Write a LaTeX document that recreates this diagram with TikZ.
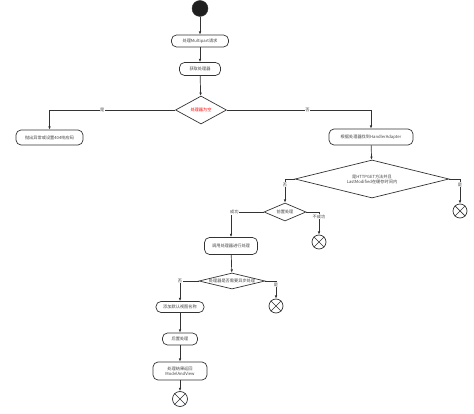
\documentclass[tikz,border=0pt]{standalone}
\usepackage{fontspec}
\newfontfamily\cjk{Noto Sans CJK SC}
\usetikzlibrary{arrows.meta,shapes.geometric}
\definecolor{ln}{HTML}{333333}
\definecolor{tx}{HTML}{444444}
\tikzset{
  every node/.style={font=\cjk\fontsize{4.2}{5.2}\selectfont, text=tx},
  act/.style={draw=ln, line width=0.7pt, rounded corners=5pt, inner sep=0pt, align=center},
  dec/.style={draw=ln, line width=0.7pt, diamond, inner sep=0pt, align=center},
  endc/.style={draw=ln, line width=0.7pt, circle, fill=white, inner sep=0pt, minimum size=#1},
  flow/.style={draw=ln, line width=0.7pt, -{Latex[length=3.2pt,width=2.6pt]}},
  lab/.style={fill=white, inner sep=0.6pt}
}
\begin{document}
\begin{tikzpicture}[x=1pt,y=-1pt]
\useasboundingbox (0,0) rectangle (474,414);
\fill[white] (0,0) rectangle (474,414);
\node[circle, fill=black!88, draw=ln, minimum size=16pt, inner sep=0pt] (s) at (200,8.5) {};
\node[act, minimum width=57pt, minimum height=12pt] (b1) at (200,41) {处理Multipart请求};
\node[act, minimum width=41pt, minimum height=13pt] (b2) at (200,69) {获取处理器};
\node[dec, minimum width=51pt, minimum height=28pt, aspect=1.8, text=red] (d1) at (201,110) {处理器为空};
\node[act, minimum width=67pt, minimum height=15pt] (b3) at (49.5,137.5) {抛出异常或设置404响应码};
\node[act, minimum width=84pt, minimum height=16pt] (b4) at (371,137) {根据处理器找到HandlerAdapter};
\node[dec, minimum width=154pt, minimum height=38pt, aspect=4] (d2) at (372,179) {是HTTPGET方法并且\\LastModified在缓存时间内};
\node[endc=14pt] (e1) at (460,211) {};
\node[dec, minimum width=42pt, minimum height=18pt, aspect=2.3] (d3) at (285,212) {前置处理};
\node[act, minimum width=53pt, minimum height=17pt] (b5) at (231,246) {调用处理器进行处理};
\node[endc=14pt] (e2) at (319,242) {};
\node[dec, minimum width=66pt, minimum height=16pt, aspect=4.1] (d4) at (232,281) {处理器是否需要异步处理};
\node[act, minimum width=48pt, minimum height=11pt] (b6) at (180,307) {添加默认视图名称};
\node[endc=14pt] (e3) at (276,306) {};
\node[act, minimum width=35pt, minimum height=12pt] (b7) at (180,339) {后置处理};
\node[act, minimum width=54pt, minimum height=18pt] (b8) at (180,371) {处理结果返回\\ModelAndView};
\node[endc=15pt] (e4) at (180,399) {};
\foreach \e in {e1,e2,e3,e4}{
  \draw[ln, line width=0.7pt] (\e.north east) -- (\e.south west) (\e.north west) -- (\e.south east);
}
\draw[flow] (s) -- (b1);
\draw[flow] (b1) -- (b2);
\draw[flow] (b2) -- (d1);
\draw[flow] (d1.west) -| node[lab, pos=0.29] {是} (b3.north);
\draw[flow] (d1.east) -| node[lab, pos=0.28] {否} (b4.north);
\draw[flow] (b4) -- (d2);
\draw[flow] (d2.west) -| node[lab, pos=0.62] {否} (d3.north);
\draw[flow] (d2.east) -| node[lab, pos=0.62] {是} (e1.north);
\draw[flow] (d3.west) -| node[lab, pos=0.45] {成功} (b5.north);
\draw[flow] (d3.east) -| node[lab, pos=0.6] {不成功} (e2.north);
\draw[flow] (b5) -- (d4);
\draw[flow] (d4.west) -| node[lab, pos=0.5] {否} (b6.north);
\draw[flow] (d4.east) -| node[lab, pos=0.6] {是} (e3.north);
\draw[flow] (b6) -- (b7);
\draw[flow] (b7) -- (b8);
\draw[flow] (b8) -- (e4);
\end{tikzpicture}
\end{document}
